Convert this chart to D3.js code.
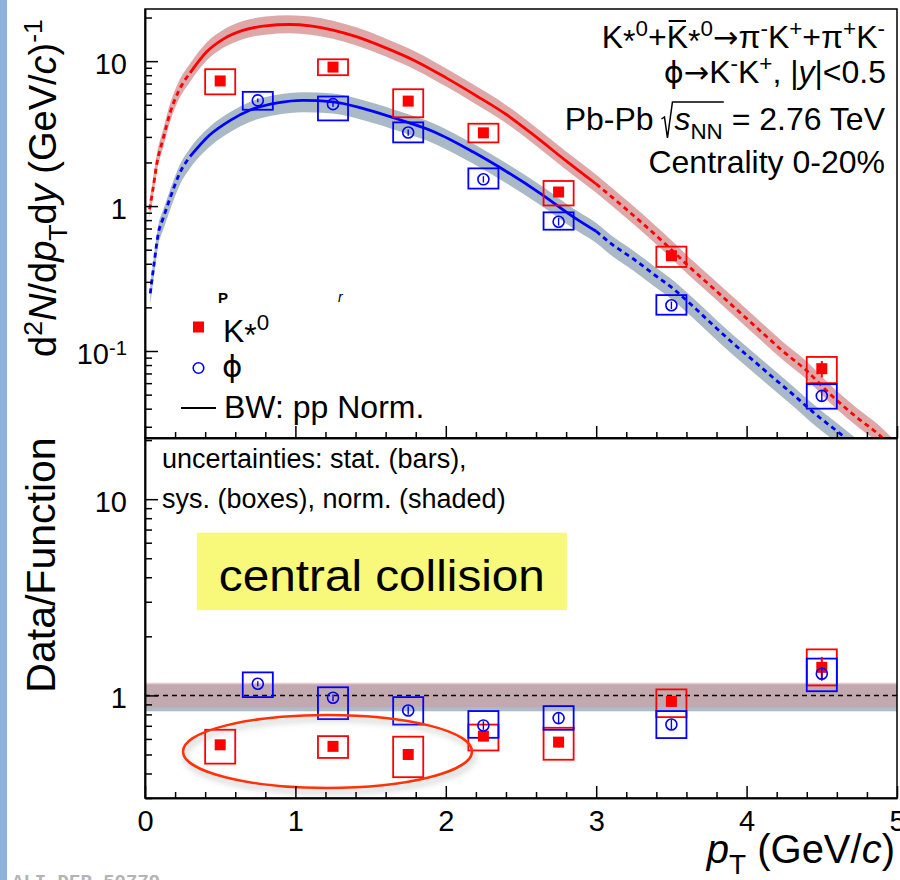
<!DOCTYPE html>
<html>
<head>
<meta charset="utf-8">
<script src="https://cdn.jsdelivr.net/npm/d3@7"></script>
<style>
  body { margin: 0; background: #fff; }
  svg { display: block; }
</style>
</head>
<body>
<script>
// --- data ---
const pTK = [0.5, 1.25, 1.75, 2.25, 2.75, 3.5, 4.5];
const pTPhi = [0.75, 1.25, 1.75, 2.25, 2.75, 3.5, 4.5];
const boxHalf = 0.1; // half width of the sys. boxes in pT

const yieldK = [7.3, 9.1, 5.3, 3.2, 1.25, 0.454, 0.0755];
const sysLoK = [5.9, 8.0, 4.1, 2.75, 1.01, 0.38, 0.06];
const sysHiK = [8.8, 10.3, 6.4, 3.7, 1.49, 0.525, 0.091];
const statK = [0.02, 0.03, 0.06, 0.04, 0.06, 0.06, 0.13];

const yieldPhi = [5.36, 5.05, 3.22, 1.53, 0.78, 0.207, 0.049];
const sysLoPhi = [4.62, 3.9, 2.75, 1.32, 0.687, 0.178, 0.040];
const sysHiPhi = [6.14, 5.7, 3.78, 1.82, 0.905, 0.243, 0.059];
const statPhi = [0.03, 0.04, 0.05, 0.05, 0.06, 0.06, 0.08];

const ratioK = [0.56, 0.55, 0.50, 0.62, 0.578, 0.932, 1.39];
const ratioLoK = [0.449, 0.48, 0.383, 0.524, 0.47, 0.775, 1.124];
const ratioHiK = [0.668, 0.62, 0.616, 0.71, 0.684, 1.073, 1.716];

const ratioPhi = [1.147, 0.973, 0.838, 0.703, 0.766, 0.711, 1.29];
const ratioLoPhi = [0.98, 0.757, 0.71, 0.608, 0.668, 0.606, 1.05];
const ratioHiPhi = [1.31, 1.10, 0.98, 0.832, 0.882, 0.832, 1.54];

// blast-wave curves (pp normalised)
const bwPtK = [0.03, 0.05, 0.08, 0.12, 0.17, 0.22, 0.3, 0.41, 0.52, 0.65, 0.8, 0.96, 1.1, 1.25, 1.41, 1.58, 1.8, 2.0, 2.2, 2.4, 2.6, 2.8, 3.0, 3.2, 3.45, 3.62, 3.78, 3.93, 4.09, 4.24, 4.4, 4.55, 4.73, 4.87, 5.0];
const bwK = [0.95, 1.25, 2.0, 2.9, 4.5, 6.1, 8.3, 11.6, 14.2, 16.3, 17.5, 17.9, 17.5, 16.4, 14.7, 12.6, 10.0, 7.7, 5.8, 4.3, 3.0, 2.05, 1.42, 0.95, 0.56, 0.38, 0.27, 0.195, 0.138, 0.1, 0.073, 0.051, 0.035, 0.027, 0.02];
const bwPtPhi = [0.035, 0.06, 0.09, 0.12, 0.17, 0.23, 0.3, 0.43, 0.57, 0.7, 0.88, 1.05, 1.25, 1.47, 1.7, 1.92, 2.18, 2.4, 2.63, 2.85, 3.0, 3.11, 3.25, 3.38, 3.51, 3.64, 3.78, 3.91, 4.05, 4.18, 4.31, 4.44, 4.62, 4.75, 5.0];
const bwPhi = [0.25, 0.4, 0.66, 0.82, 1.16, 1.68, 2.2, 3.09, 3.92, 4.6, 5.15, 5.36, 5.24, 4.65, 3.92, 3.26, 2.37, 1.74, 1.22, 0.84, 0.67, 0.54, 0.43, 0.34, 0.27, 0.205, 0.15, 0.113, 0.085, 0.065, 0.05, 0.038, 0.027, 0.021, 0.013];
const fitRange = [0.3, 3.0];

// normalisation bands (relative)
const normK = [0.87, 1.16];
const normPhi = [0.83, 1.14];

const xTicks = [0, 1, 2, 3, 4, 5];
const yTopTicks = [0.1, 1, 10];
const yBotTicks = [1, 10];

// --- layout ---
const width = 900;
const height = 880;
const font = "'Liberation Sans', Arial, Helvetica, sans-serif";
const symFont = "'DejaVu Sans', sans-serif";
const red = '#ff0000';
const blue = '#0000ff';

const svg = d3.select('body').append('svg')
  .attr('width', width)
  .attr('height', height)
  .attr('font-family', font);

const x = d3.scaleLinear().domain([0, 5]).range([145, 897]);
const yTop = d3.scaleLog().domain([0.0251, 22.9]).range([438, 9]);
const yBot = d3.scaleLog().domain([0.3, 20.5]).range([798, 438]);

svg.append('rect').attr('x', 0).attr('y', 0).attr('width', 7).attr('height', height).attr('fill', '#8eb1da');

const defs = svg.append('defs');
defs.append('clipPath').attr('id', 'clipTop').append('rect')
  .attr('x', 145).attr('y', 9).attr('width', 752).attr('height', 429);
defs.append('clipPath').attr('id', 'clipBot').append('rect')
  .attr('x', 145).attr('y', 438).attr('width', 752).attr('height', 360);
const shadow = defs.append('filter').attr('id', 'shadow')
  .attr('x', '-20%').attr('y', '-40%').attr('width', '140%').attr('height', '180%');
shadow.append('feDropShadow').attr('dx', 2).attr('dy', 4).attr('stdDeviation', 3)
  .attr('flood-color', '#777').attr('flood-opacity', 0.55);

// rich text: parts with sup / sub / italic / own font
function rich(text, parts, fs) {
  let shift = 0;
  let idx = 0;
  const marks = [];
  parts.forEach(p => {
    const s = typeof p === 'string' ? { t: p } : p;
    const target = s.sup ? -0.36 * fs : s.sub ? 0.28 * fs : (s.shift || 0);
    const ts = text.append('tspan')
      .attr('dy', target - shift)
      .attr('font-size', s.sup || s.sub ? fs * 0.7 : fs * (s.scale || 1))
      .text(s.t);
    if (s.it) ts.attr('font-style', 'italic');
    if (s.dx) ts.attr('dx', s.dx);
    if (s.ff) ts.attr('font-family', s.ff);
    marks.push({ s, start: idx, end: idx + s.t.length - 1 });
    idx += s.t.length;
    shift = target;
  });
  return marks;
}

function minorLog(scale) {
  const [a, b] = scale.domain();
  const out = [];
  for (let e = -3; e <= 2; e++) {
    for (let m = 2; m <= 9; m++) {
      const v = m * Math.pow(10, e);
      if (v >= a && v <= b) out.push(v);
    }
  }
  return out;
}

function styleAxis(g) {
  g.selectAll('line, path').attr('stroke', '#000').attr('stroke-width', 1.5);
  g.selectAll('text').attr('fill', '#000');
}

function drawYAxis(scale, majors) {
  const gMinor = svg.append('g').attr('transform', 'translate(145,0)')
    .call(d3.axisLeft(scale).tickValues(minorLog(scale)).tickSizeInner(-7).tickSizeOuter(0).tickFormat(''));
  const gMajor = svg.append('g').attr('transform', 'translate(145,0)')
    .call(d3.axisLeft(scale).tickValues(majors).tickSizeInner(-13).tickSizeOuter(0).tickPadding(18)
      .tickFormat(d => (d === 0.1 ? '10' : d3.format('d')(d))));
  styleAxis(gMinor);
  styleAxis(gMajor);
  gMajor.attr('font-size', 29).attr('font-family', font);
  gMajor.selectAll('.tick text').attr('dy', '0.42em')
    .filter(d => d === 0.1)
    .append('tspan').attr('dy', '-0.45em').attr('font-size', '0.7em').text('-1');
}

function drawXAxis(yPos, withLabels) {
  const minors = d3.range(1, 25).filter(i => i % 5 !== 0).map(i => i / 5);
  const gMinor = svg.append('g').attr('transform', `translate(0,${yPos})`)
    .call(d3.axisBottom(x).tickValues(minors).tickSizeInner(-6).tickSizeOuter(0).tickFormat(''));
  const gMajor = svg.append('g').attr('transform', `translate(0,${yPos})`)
    .call(d3.axisBottom(x).tickValues(xTicks).tickSizeInner(-12).tickSizeOuter(0).tickPadding(12)
      .tickFormat(withLabels ? d3.format('d') : ''));
  styleAxis(gMinor);
  styleAxis(gMajor);
  gMajor.attr('font-size', 29).attr('font-family', font);
}

function rows(pts, vals, lo, hi, stat) {
  return pts.map((p, i) => ({ p, v: vals[i], lo: lo[i], hi: hi[i], s: stat[i] }));
}

function drawBoxes(g, yS, data, color) {
  g.selectAll(null).data(data).join('rect')
    .attr('x', d => x(d.p - boxHalf))
    .attr('width', d => x(d.p + boxHalf) - x(d.p - boxHalf))
    .attr('y', d => yS(d.hi))
    .attr('height', d => yS(d.lo) - yS(d.hi))
    .attr('fill', 'none')
    .attr('stroke', color)
    .attr('stroke-width', 1.8);
}

function drawMarkers(g, yS, data, color, open) {
  g.selectAll(null).data(data).join('line')
    .attr('x1', d => x(d.p)).attr('x2', d => x(d.p))
    .attr('y1', d => yS(d.v * (1 - d.s)))
    .attr('y2', d => yS(d.v * (1 + d.s)))
    .attr('stroke', color)
    .attr('stroke-width', open ? 1.4 : 2);
  if (open) {
    g.selectAll(null).data(data).join('circle')
      .attr('cx', d => x(d.p)).attr('cy', d => yS(d.v)).attr('r', 5.5)
      .attr('fill', 'none').attr('stroke', color).attr('stroke-width', 1.6);
  } else {
    g.selectAll(null).data(data).join('rect')
      .attr('x', d => x(d.p) - 5.5).attr('y', d => yS(d.v) - 5.5)
      .attr('width', 11).attr('height', 11)
      .attr('fill', color);
  }
}

// ---------------- top panel ----------------
const topG = svg.append('g').attr('clip-path', 'url(#clipTop)');

function drawCurve(pts, vals, band, bandFill, color) {
  const data = pts.map((p, i) => ({ p, v: vals[i] }));
  topG.append('path').datum(data)
    .attr('d', d3.area().curve(d3.curveMonotoneX)
      .x(d => x(d.p)).y0(d => yTop(d.v * band[0])).y1(d => yTop(d.v * band[1])))
    .attr('fill', bandFill);
  const line = d3.line().curve(d3.curveMonotoneX).x(d => x(d.p)).y(d => yTop(d.v));
  topG.append('path').datum(data.filter(d => d.p >= fitRange[0] && d.p <= fitRange[1]))
    .attr('d', line).attr('fill', 'none').attr('stroke', color).attr('stroke-width', 2.8);
  [data.filter(d => d.p <= fitRange[0]), data.filter(d => d.p >= fitRange[1])].forEach(seg => {
    topG.append('path').datum(seg)
      .attr('d', line).attr('fill', 'none').attr('stroke', color)
      .attr('stroke-width', 2.8).attr('stroke-dasharray', '5,4');
  });
}

drawCurve(bwPtPhi, bwPhi, normPhi, '#a9b9c6', blue);
drawCurve(bwPtK, bwK, normK, 'rgba(200,110,110,0.6)', red);

const topK = rows(pTK, yieldK, sysLoK, sysHiK, statK);
const topPhi = rows(pTPhi, yieldPhi, sysLoPhi, sysHiPhi, statPhi);
drawBoxes(topG, yTop, topK, red);
drawBoxes(topG, yTop, topPhi, blue);
drawMarkers(topG, yTop, topK, red, false);
drawMarkers(topG, yTop, topPhi, blue, true);

// ---------------- bottom panel ----------------
const botG = svg.append('g').attr('clip-path', 'url(#clipBot)');
botG.append('rect')
  .attr('x', x(0)).attr('width', x(5) - x(0))
  .attr('y', yBot(normPhi[1])).attr('height', yBot(normPhi[0]) - yBot(normPhi[1]))
  .attr('fill', '#adbcc8');
botG.append('rect')
  .attr('x', x(0)).attr('width', x(5) - x(0))
  .attr('y', yBot(normK[1])).attr('height', yBot(normK[0]) - yBot(normK[1]))
  .attr('fill', 'rgba(215,150,150,0.5)');
botG.append('line')
  .attr('x1', x(0)).attr('x2', x(5)).attr('y1', yBot(1)).attr('y2', yBot(1))
  .attr('stroke', '#000').attr('stroke-width', 1.5).attr('stroke-dasharray', '5,4');

const botK = rows(pTK, ratioK, ratioLoK, ratioHiK, statK);
const botPhi = rows(pTPhi, ratioPhi, ratioLoPhi, ratioHiPhi, statPhi);
drawBoxes(botG, yBot, botK, red);
drawBoxes(botG, yBot, botPhi, blue);
drawMarkers(botG, yBot, botK, red, false);
drawMarkers(botG, yBot, botPhi, blue, true);

// annotations in the ratio panel
svg.append('rect')
  .attr('x', x(0.345)).attr('width', x(2.805) - x(0.345))
  .attr('y', yBot(6.75)).attr('height', yBot(2.72) - yBot(6.75))
  .attr('fill', '#f8f87a');
svg.append('text')
  .attr('x', x(1.575)).attr('y', 591)
  .attr('text-anchor', 'middle').attr('font-size', 44)
  .attr('textLength', 326).attr('lengthAdjust', 'spacingAndGlyphs')
  .text('central collision');

svg.append('ellipse')
  .attr('cx', x(1.2135)).attr('cy', yBot(0.518))
  .attr('rx', x(2.174) - x(1.2135))
  .attr('ry', (yBot(0.337) - yBot(0.794)) / 2)
  .attr('fill', 'none').attr('stroke', '#ff3300').attr('stroke-width', 2.5)
  .attr('filter', 'url(#shadow)');

svg.append('text').attr('x', 162).attr('y', 468).attr('font-size', 27)
  .text('uncertainties: stat. (bars),');
svg.append('text').attr('x', 162).attr('y', 508).attr('font-size', 27)
  .text('sys. (boxes), norm. (shaded)');

// frames and axes
svg.append('rect').attr('x', 145).attr('y', 9).attr('width', 752).attr('height', 429)
  .attr('fill', 'none').attr('stroke', '#000').attr('stroke-width', 1.5);
svg.append('rect').attr('x', 145).attr('y', 438).attr('width', 752).attr('height', 360)
  .attr('fill', 'none').attr('stroke', '#000').attr('stroke-width', 1.5);
drawYAxis(yTop, yTopTicks);
drawYAxis(yBot, yBotTicks);
drawXAxis(438, false);
drawXAxis(798, true);

// ---------------- legend ----------------
svg.append('rect').attr('x', 193).attr('y', 321.5).attr('width', 11).attr('height', 11).attr('fill', red);
rich(svg.append('text').attr('x', 223).attr('y', 342),
  ['K', { t: '*', shift: 4 }, { t: '0', sup: true }], 32);
svg.append('circle').attr('cx', 198.5).attr('cy', 368).attr('r', 5.3)
  .attr('fill', 'none').attr('stroke', blue).attr('stroke-width', 1.6);
svg.append('text').attr('x', 222).attr('y', 377).attr('font-size', 31)
  .attr('font-family', symFont).text('ϕ');
svg.append('line').attr('x1', 181).attr('x2', 216).attr('y1', 408).attr('y2', 408)
  .attr('stroke', '#000').attr('stroke-width', 2);
svg.append('text').attr('x', 224).attr('y', 418).attr('font-size', 32).text('BW: pp Norm.');
svg.append('text').attr('x', 218).attr('y', 303).attr('font-size', 15).attr('font-weight', 'bold').text('P');
svg.append('text').attr('x', 338).attr('y', 302).attr('font-size', 14).attr('font-style', 'italic').text('r');

// ---------------- top-right labels ----------------
const line1 = svg.append('text').attr('x', 885).attr('y', 48).attr('text-anchor', 'end');
const m1 = rich(line1, [
  'K', { t: '*', shift: 4 }, { t: '0', sup: true }, { t: '+', shift: 0 },
  { t: 'K', bar: true }, { t: '*', shift: 4 }, { t: '0', sup: true },
  { t: '→', ff: symFont, scale: 0.95 }, 'π', { t: '-', sup: true }, 'K', { t: '+', sup: true }, '+π', { t: '+', sup: true },
  'K', { t: '-', sup: true }
], 32);
const barK = m1.find(m => m.s.bar);
const rk = line1.node().getExtentOfChar(barK.start);
svg.append('line').attr('x1', rk.x + 2).attr('x2', rk.x + rk.width - 2)
  .attr('y1', 48 - 27).attr('y2', 48 - 27).attr('stroke', '#000').attr('stroke-width', 2);

rich(svg.append('text').attr('x', 886).attr('y', 83).attr('text-anchor', 'end'), [
  { t: 'ϕ', ff: symFont, scale: 0.95 }, { t: '→', ff: symFont, scale: 0.95 }, 'K', { t: '-', sup: true },
  'K', { t: '+', sup: true }, ', |', { t: 'y', it: true }, '|<0.5'
], 32);

const line3 = svg.append('text').attr('x', 885).attr('y', 130).attr('text-anchor', 'end');
const m3 = rich(line3, [
  'Pb-Pb ', { t: 's', it: true, dx: 12, rad: true }, { t: 'NN', sub: true, radEnd: true }, ' = 2.76 TeV'
], 32);
const rs = line3.node().getExtentOfChar(m3.find(m => m.s.rad).start);
const reEnd = m3.find(m => m.s.radEnd);
const re = line3.node().getExtentOfChar(reEnd.end);
const b3 = 130;
svg.append('path')
  .attr('d', `M${rs.x - 13},${b3 - 11} L${rs.x - 10},${b3 - 13} L${rs.x - 7},${b3 + 8} L${rs.x - 2},${b3 - 28} L${re.x + re.width + 1},${b3 - 28}`)
  .attr('fill', 'none').attr('stroke', '#000').attr('stroke-width', 1.5);

svg.append('text').attr('x', 885).attr('y', 173).attr('text-anchor', 'end').attr('font-size', 32)
  .text('Centrality 0-20%');

// ---------------- axis titles ----------------
rich(svg.append('text').attr('text-anchor', 'middle')
  .attr('transform', 'translate(56,188) rotate(-90)'), [
  'd', { t: '2', sup: true }, { t: 'N', it: true }, '/d', { t: 'p', it: true }, { t: 'T', sub: true },
  'd', { t: 'y', it: true }, ' (GeV/', { t: 'c', it: true }, ')', { t: '-1', sup: true }
], 38);

svg.append('text').attr('text-anchor', 'middle')
  .attr('transform', 'translate(55,565) rotate(-90)')
  .attr('font-size', 41).text('Data/Function');

rich(svg.append('text').attr('x', 895).attr('y', 863).attr('text-anchor', 'end'), [
  { t: 'p', it: true }, { t: 'T', sub: true }, ' (GeV/', { t: 'c', it: true }, ')'
], 40);

svg.append('text').attr('x', 12).attr('y', 887)
  .attr('font-family', "'Liberation Mono', 'DejaVu Sans Mono', monospace")
  .attr('font-weight', 'bold').attr('font-size', 19).attr('fill', '#b4b4b4')
  .text('ALI-DER-50779');
</script>
</body>
</html>
